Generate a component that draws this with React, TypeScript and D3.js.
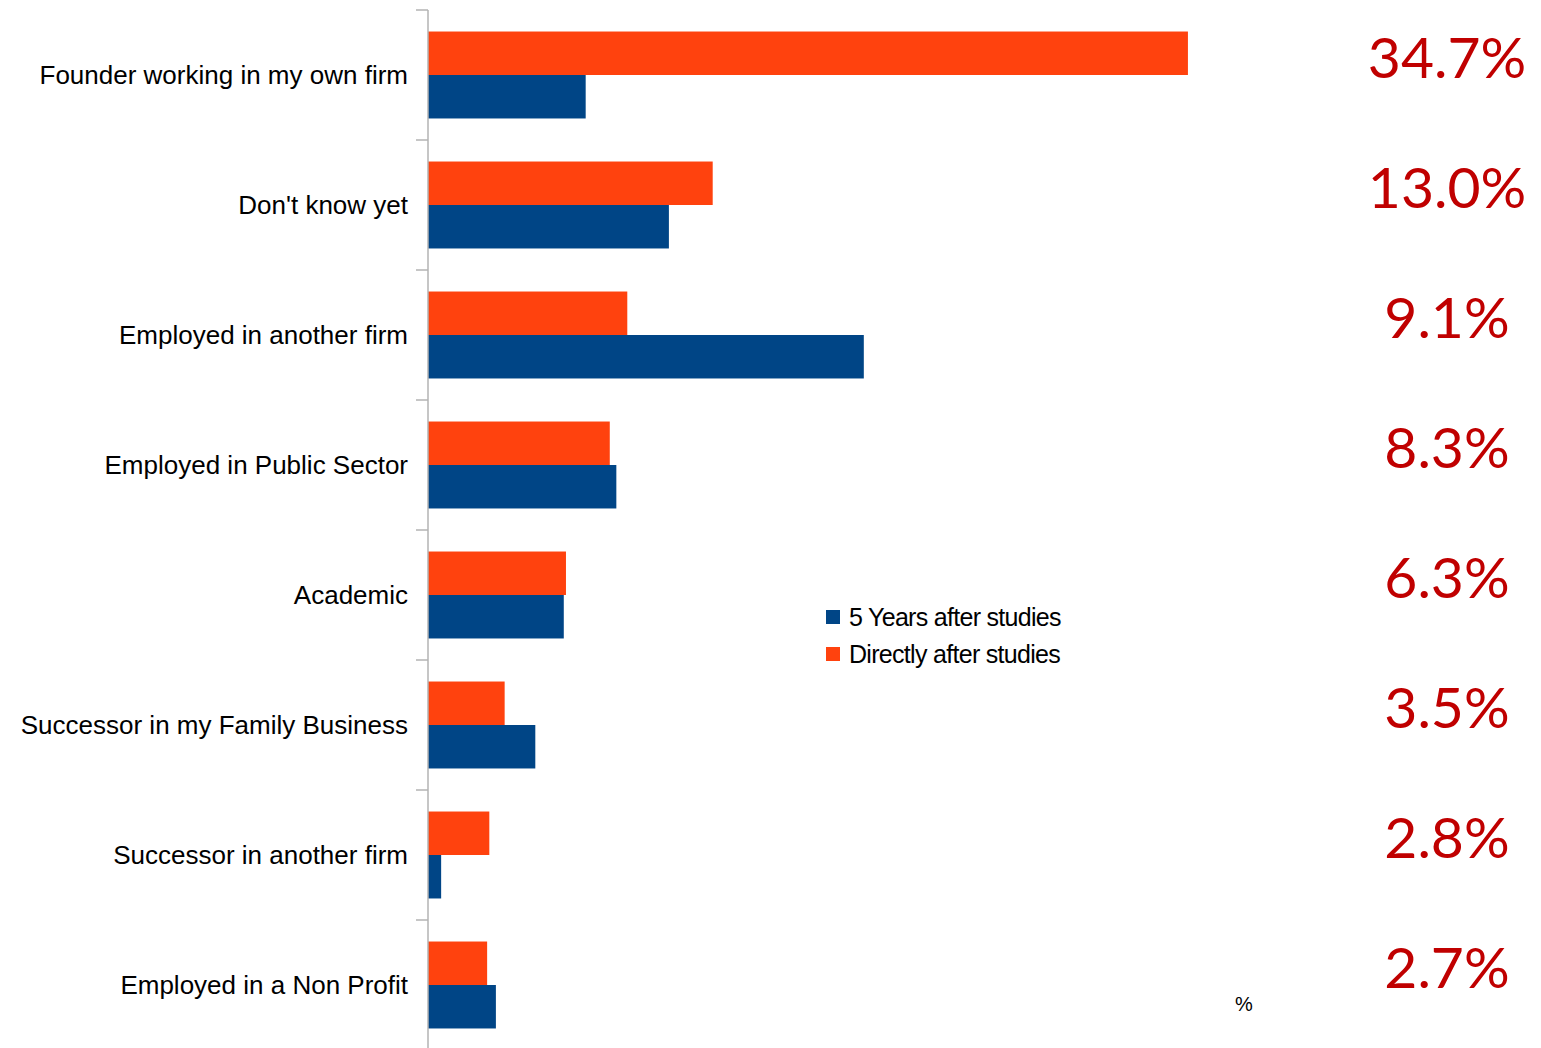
import React from "react";
import * as d3 from "d3";

const categories = [
  "Founder working in my own firm",
  "Don't know yet",
  "Employed in another firm",
  "Employed in Public Sector",
  "Academic",
  "Successor in my Family Business",
  "Successor in another firm",
  "Employed in a Non Profit",
];
const directlyAfter = [34.7, 13.0, 9.1, 8.3, 6.3, 3.5, 2.8, 2.7];
const fiveYearsAfter = [7.2, 11.0, 19.9, 8.6, 6.2, 4.9, 0.6, 3.1];
const seriesNames = ["5 Years after studies", "Directly after studies"];
const colors = ["#004586", "#ff420e"];

const W = 1541;
const H = 1048;

export default function App() {
  const x = d3.scaleLinear().domain([0, 40]).range([428, 428 + 40 * 21.9]);
  const y = d3.scaleBand<string>().domain(categories).range([10, 1050]).paddingInner(0).paddingOuter(0);
  const bw = y.bandwidth();
  const inner = d3
    .scaleBand<string>()
    .domain(["d", "f"])
    .range([0, bw])
    .paddingOuter(0.495)
    .paddingInner(0);

  const fmt = d3.format(".1f");
  const font = "'Liberation Sans', Arial, sans-serif";

  return (
    <svg
      width={W}
      height={H}
      style={{ position: "absolute", left: 0, top: 0, background: "#fff" }}
    >
      {categories.map((c, i) => (
        <g key={c}>
          <rect
            x={x(0)}
            y={(y(c) as number) + (inner("d") as number)}
            width={x(directlyAfter[i]) - x(0)}
            height={inner.bandwidth()}
            fill={colors[1]}
          />
          <rect
            x={x(0)}
            y={(y(c) as number) + (inner("f") as number)}
            width={x(fiveYearsAfter[i]) - x(0)}
            height={inner.bandwidth()}
            fill={colors[0]}
          />
          <text
            x={408}
            y={(y(c) as number) + bw / 2}
            dy="0.35em"
            textAnchor="end"
            fontFamily={font}
            fontSize={26}
            fill="#000"
          >
            {c}
          </text>
          <text
            x={1447}
            y={(y(c) as number) + bw / 2 - 18}
            dy="0.36em"
            textAnchor="middle"
            fontFamily="Lato, 'Open Sans', sans-serif"
            fontSize={57}
            fill="#c00000"
          >
            {fmt(directlyAfter[i])}%
          </text>
        </g>
      ))}
      {/* axis */}
      <line x1={x(0)} x2={x(0)} y1={10} y2={1050} stroke="#b3b3b3" strokeWidth={1.5} />
      {d3.range(categories.length + 1).map((k) => {
        const yy = 10 + k * bw;
        return <line key={k} x1={416} x2={x(0)} y1={yy} y2={yy} stroke="#b3b3b3" strokeWidth={1.5} />;
      })}
      {/* legend */}
      {seriesNames.map((s, i) => (
        <g key={s} transform={`translate(826, ${610 + i * 37})`}>
          <rect width={14} height={14} fill={colors[i]} />
          <text
            x={23}
            y={7}
            dy="0.36em"
            fontFamily={font}
            fontSize={25}
            letterSpacing={-0.7}
            fill="#000"
          >
            {s}
          </text>
        </g>
      ))}
      <text
        x={1244}
        y={1004}
        dy="0.35em"
        textAnchor="middle"
        fontFamily={font}
        fontSize={20}
        fill="#000"
      >
        %
      </text>
    </svg>
  );
}
